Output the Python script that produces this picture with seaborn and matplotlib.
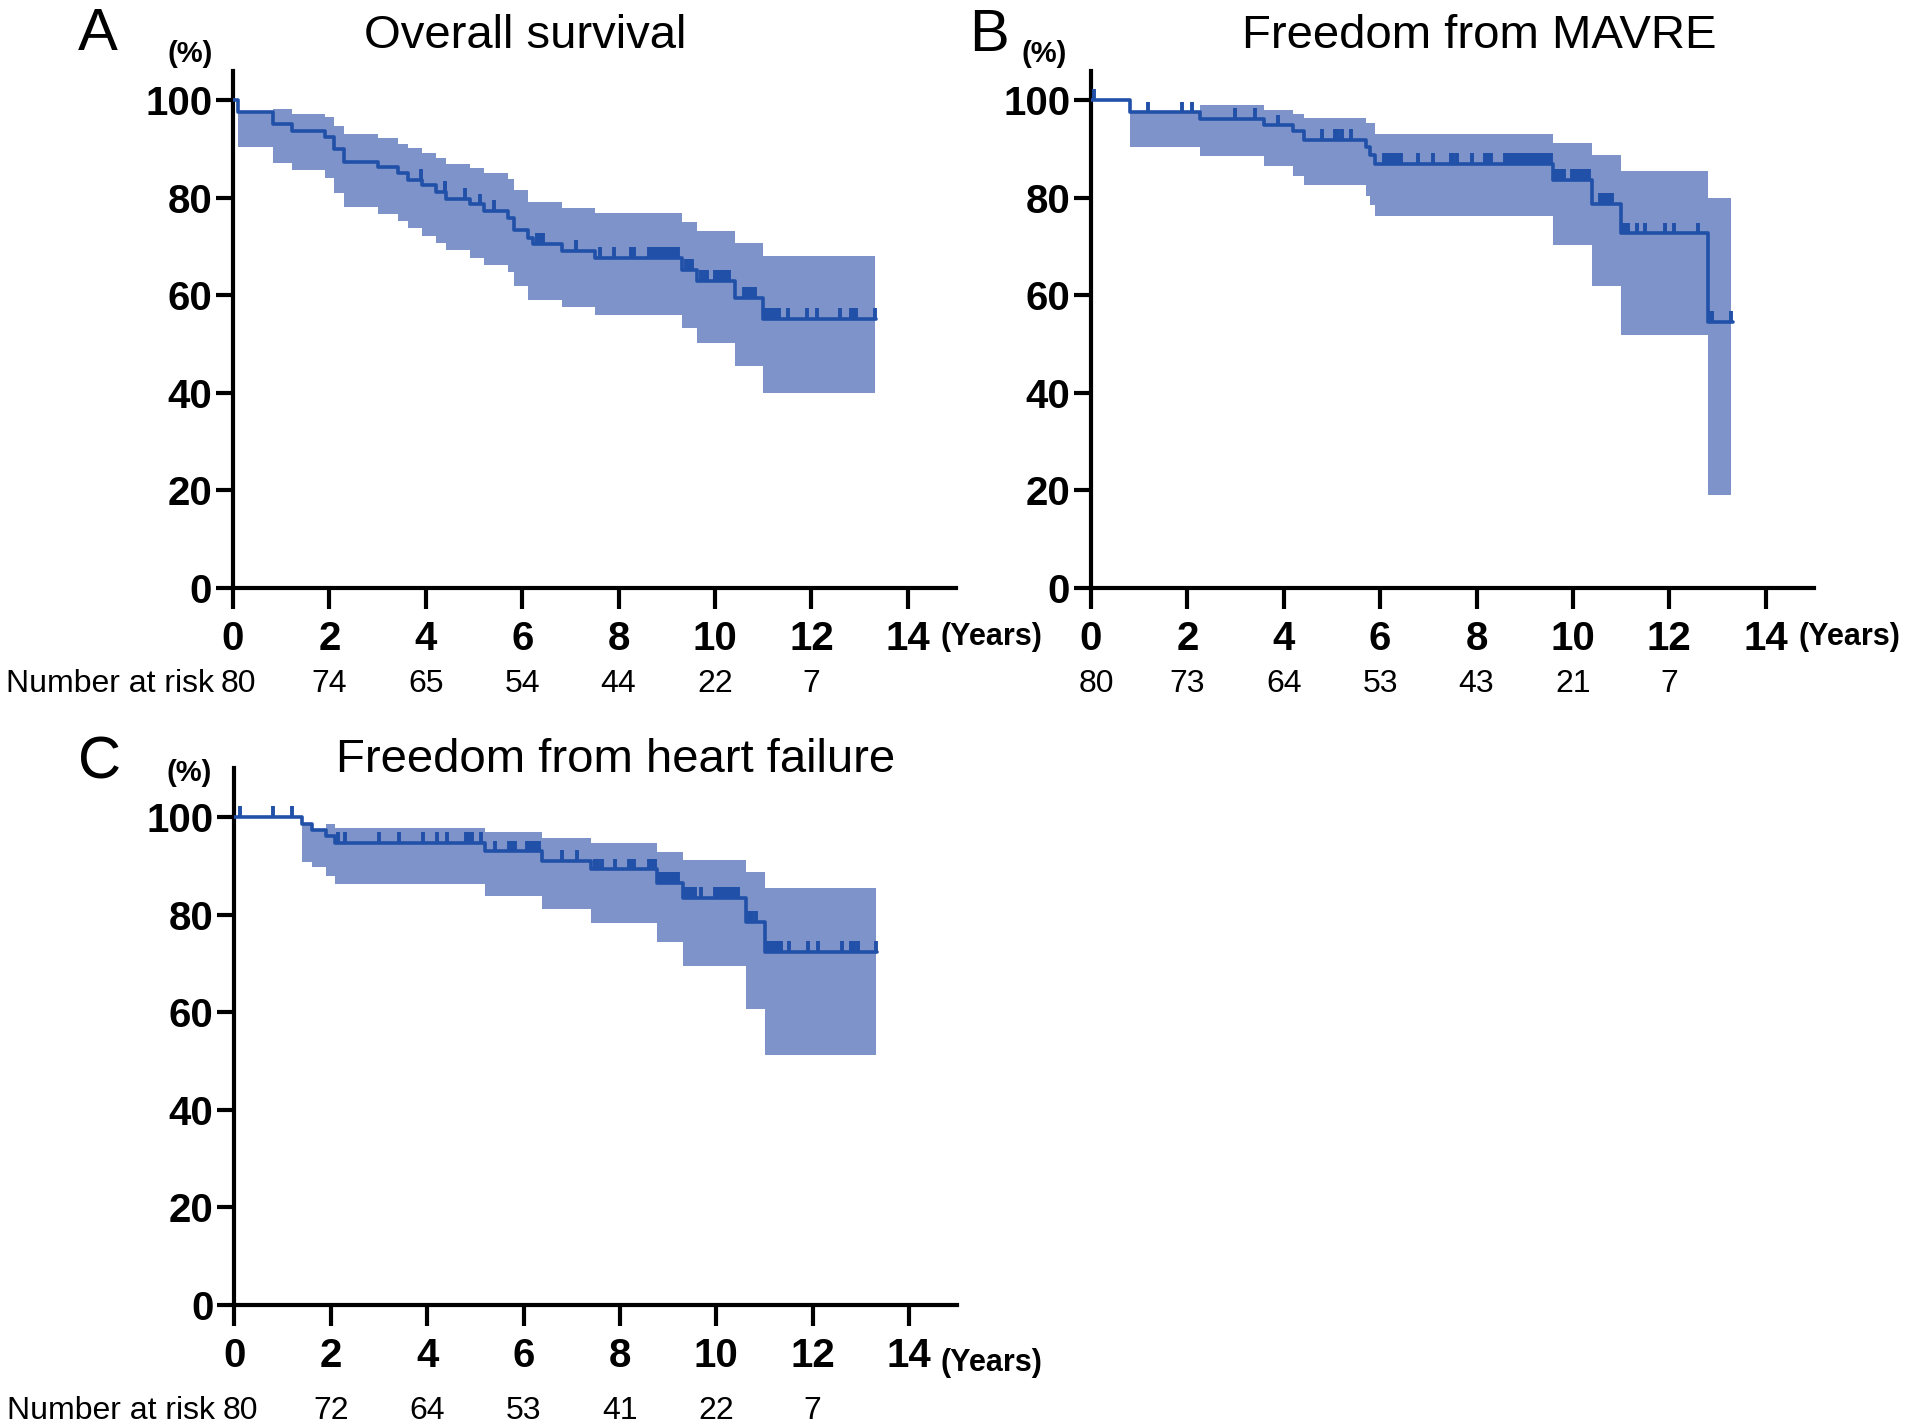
import numpy as np
import matplotlib
matplotlib.use("Agg")
import matplotlib.pyplot as plt
import seaborn as sns

# ---- A: overall survival ----
os_time = [0, 0.10, 0.82, 1.22, 1.91, 2.10, 2.30, 3.01, 3.42, 3.62, 3.92, 4.21, 4.41,
           4.91, 5.21, 5.71, 5.82, 6.13, 6.23, 6.82, 7.52, 9.31, 9.62, 10.41, 11.00]
os_surv = [100, 97.5, 95.0, 93.7, 92.5, 90.0, 87.4, 86.2, 85.0, 83.7, 82.6, 81.2, 79.8,
           78.6, 77.3, 75.8, 73.4, 71.8, 70.5, 69.1, 67.7, 65.2, 62.9, 59.4, 55.1]
os_end = 13.34
os_ci_time = [0.10, 0.82, 1.22, 1.91, 2.10, 2.30, 3.01, 3.42, 3.62, 3.92, 4.21, 4.41,
              4.91, 5.21, 5.71, 5.82, 6.13, 6.82, 7.52, 9.31, 9.62, 10.41, 11.00]
os_ci_upper = [97.6, 98.1, 97.2, 96.5, 94.7, 93.0, 92.2, 91.0, 90.1, 89.1, 88.2, 87.0,
               86.0, 85.0, 83.8, 81.6, 79.2, 77.9, 76.8, 75.1, 73.2, 70.8, 68.0]
os_ci_lower = [90.4, 87.2, 85.6, 84.1, 80.9, 78.0, 76.6, 75.2, 73.7, 72.2, 70.8, 69.2,
               67.7, 66.3, 64.8, 61.9, 59.0, 57.5, 56.0, 53.2, 50.3, 45.5, 39.9]
os_ci_end = 13.33
os_censor = [3.90, 4.39, 4.81, 5.12, 5.42, 6.31, 6.37, 6.43, 7.11, 7.61, 7.91, 8.25, 8.32,
             8.63, 8.69, 8.75, 8.81, 8.87, 8.93, 8.99, 9.05, 9.11, 9.17, 9.23,
             9.39, 9.46, 9.53, 9.70, 9.77, 9.84, 10.00, 10.06, 10.12, 10.18, 10.24, 10.30,
             10.60, 10.66, 10.72, 10.78, 10.84, 11.04, 11.10, 11.16, 11.22, 11.28, 11.33,
             11.52, 11.90, 12.11, 12.60, 12.82, 12.88, 12.93, 13.32]
os_at_risk = [80, 74, 65, 54, 44, 22, 7]

# ---- B: freedom from MAVRE ----
mavre_time = [0, 0.80, 2.26, 3.59, 4.20, 4.41, 5.71, 5.79, 5.90, 9.59, 10.40, 11.00, 12.81]
mavre_surv = [100, 97.5, 96.2, 94.8, 93.6, 91.9, 90.4, 88.8, 87.0, 83.6, 78.8, 72.7, 54.6]
mavre_end = 13.32
mavre_ci_time = [0.80, 2.26, 3.59, 4.20, 4.41, 5.71, 5.79, 5.90, 9.59, 10.40, 11.00, 12.81]
mavre_ci_upper = [97.5, 98.9, 98.0, 97.2, 96.3, 95.3, 95.3, 93.0, 91.3, 88.7, 85.5, 80.0]
mavre_ci_lower = [90.3, 88.5, 86.5, 84.4, 82.5, 80.3, 78.4, 76.2, 70.4, 61.8, 51.8, 19.1]
mavre_ci_end = 13.29
mavre_censor = [0.07, 1.19, 1.88, 2.09, 2.99, 3.40, 3.89, 4.80, 5.07, 5.13, 5.20, 5.39,
                6.08, 6.14, 6.20, 6.26, 6.32, 6.38, 6.43, 6.79, 7.10, 7.46, 7.52, 7.60, 7.90,
                8.18, 8.24, 8.30, 8.60, 8.66, 8.72, 8.78, 8.84, 8.90, 8.96, 9.02, 9.08, 9.14,
                9.20, 9.26, 9.32, 9.38, 9.44, 9.50, 9.55, 9.64, 9.70, 9.76, 9.82,
                9.98, 10.04, 10.10, 10.16, 10.22, 10.28, 10.34, 10.57, 10.63, 10.69, 10.75,
                10.82, 11.02, 11.08, 11.14, 11.32, 11.49, 11.91, 12.09, 12.60, 12.83, 12.89,
                13.29]
mavre_at_risk = [80, 73, 64, 53, 43, 21, 7]

# ---- C: freedom from heart failure ----
hf_time = [0, 1.40, 1.62, 1.91, 2.09, 5.19, 6.38, 7.40, 8.77, 9.30, 10.61, 11.01]
hf_surv = [100, 98.7, 97.4, 96.1, 94.8, 93.0, 91.1, 89.3, 86.5, 83.4, 78.6, 72.4]
hf_end = 13.33
hf_ci_time = [1.40, 1.62, 1.91, 2.09, 5.19, 6.38, 7.40, 8.77, 9.30, 10.61, 11.01]
hf_ci_upper = [98.7, 97.4, 98.6, 97.7, 96.9, 95.8, 94.7, 92.9, 91.2, 88.7, 85.4]
hf_ci_lower = [90.8, 89.7, 88.0, 86.3, 83.9, 81.2, 78.4, 74.5, 69.4, 60.7, 51.2]
hf_ci_end = 13.31
hf_censor = [0.11, 0.81, 1.20, 2.14, 2.30, 3.01, 3.41, 3.91, 4.21, 4.41, 4.80, 4.86, 4.93,
             5.11, 5.40, 5.69, 5.76, 5.83, 6.08, 6.14, 6.20, 6.26, 6.32, 6.80, 7.11,
             7.48, 7.55, 7.63, 7.90, 8.18, 8.24, 8.30, 8.60, 8.66, 8.72,
             8.79, 8.85, 8.91, 8.97, 9.03, 9.09, 9.15, 9.21, 9.38, 9.44, 9.50, 9.55, 9.69,
             9.98, 10.04, 10.10, 10.16, 10.22, 10.28, 10.34, 10.40, 10.44,
             10.63, 10.69, 10.75, 10.82, 11.05, 11.11, 11.17, 11.23, 11.29, 11.34,
             11.51, 11.90, 12.11, 12.60, 12.80, 12.86, 12.93, 13.31]
hf_at_risk = [80, 72, 64, 53, 41, 22, 7]

risk_years = [0, 2, 4, 6, 8, 10, 12]
x_ticks = [0, 2, 4, 6, 8, 10, 12, 14]
y_ticks = [0, 20, 40, 60, 80, 100]

BAND = "#7d93ca"
LINE = "#2050a8"
NARROW = ["Liberation Sans Narrow", "Liberation Sans", "DejaVu Sans"]

sns.set_style("ticks")
plt.rcParams["font.family"] = ["Liberation Sans", "DejaVu Sans"]
plt.rcParams.update({"text.color": "black", "axes.edgecolor": "black",
                     "xtick.color": "black", "ytick.color": "black",
                     "axes.labelcolor": "black"})


def draw_km(ax, time, surv, end, ci_time, upper, lower, ci_end, censor, ytop):
    ax.fill_between(np.r_[ci_time, ci_end], np.r_[upper, upper[-1]],
                    np.r_[lower, lower[-1]], step="post", color=BAND, lw=0, zorder=1)
    sns.lineplot(x=np.r_[time, end], y=np.r_[surv, surv[-1]], drawstyle="steps-post",
                 color=LINE, lw=2.6, estimator=None, ax=ax, zorder=3)
    # censoring ticks sit on top of the curve
    idx = np.searchsorted(time, censor, side="right") - 1
    level = np.asarray(surv)[idx]
    ax.vlines(censor, level, level + 2.2, color=LINE, lw=2.8, zorder=3)

    ax.set_xlim(0, 15)
    ax.set_ylim(0, ytop)
    ax.set_xticks(x_ticks)
    ax.set_yticks(y_ticks)
    ax.set_xlabel("")
    ax.set_ylabel("")
    sns.despine(ax=ax)
    for sp in ["left", "bottom"]:
        ax.spines[sp].set_linewidth(3)
        ax.spines[sp].set_color("black")
    ax.tick_params(axis="x", length=15, width=3, pad=8, colors="black")
    ax.tick_params(axis="y", length=12, width=3, pad=3, colors="black")
    for lab in ax.get_xticklabels() + ax.get_yticklabels():
        lab.set_family(NARROW)
        lab.set_fontweight("bold")
        lab.set_fontsize(29)


def at_risk_row(ax, counts, label, dy):
    for i, (yr, n) in enumerate(zip(risk_years, counts)):
        ax.annotate(str(n), xy=(yr, 0), xycoords=("data", "axes fraction"),
                    xytext=(4 if i == 0 else 0, dy), textcoords="offset points",
                    ha="center", va="center", fontsize=23)
    if label:
        ax.annotate("Number at risk", xy=(0, 0), xycoords=("data", "axes fraction"),
                    xytext=(-14, dy), textcoords="offset points",
                    ha="right", va="center", fontsize=23)


fig = plt.figure(figsize=(19.15, 14.27), dpi=100)
ax_a = fig.add_axes([0.1217, 0.5879, 0.3775, 0.3625])
ax_b = fig.add_axes([0.5697, 0.5879, 0.3775, 0.3625])
ax_c = fig.add_axes([0.1224, 0.0855, 0.3775, 0.3760])

draw_km(ax_a, os_time, os_surv, os_end, os_ci_time, os_ci_upper, os_ci_lower,
        os_ci_end, os_censor, 106)
draw_km(ax_b, mavre_time, mavre_surv, mavre_end, mavre_ci_time, mavre_ci_upper,
        mavre_ci_lower, mavre_ci_end, mavre_censor, 106)
draw_km(ax_c, hf_time, hf_surv, hf_end, hf_ci_time, hf_ci_upper, hf_ci_lower,
        hf_ci_end, hf_censor, 110)

at_risk_row(ax_a, os_at_risk, True, -69)
at_risk_row(ax_b, mavre_at_risk, False, -69)
at_risk_row(ax_c, hf_at_risk, True, -76)

# panel letters, titles, axis unit labels
for x, y, s in [(0.0512, 0.9757, "A"), (0.5165, 0.9748, "B"), (0.0522, 0.4656, "C")]:
    fig.text(x, y, s, fontsize=43, ha="center", va="center")
for x, y, s in [(0.2740, 0.9750, "Overall survival"),
                (0.7726, 0.9750, "Freedom from MAVRE"),
                (0.3217, 0.4674, "Freedom from heart failure")]:
    fig.text(x, y, s, fontsize=34, ha="center", va="center")
for x, y in [(0.0992, 0.9624), (0.5454, 0.9624), (0.0987, 0.4583)]:
    fig.text(x, y, "(%)", fontsize=21, fontweight="bold", family=NARROW,
             ha="center", va="center")
for x, y in [(0.5175, 0.5536), (0.9660, 0.5536), (0.5175, 0.0450)]:
    fig.text(x, y, "(Years)", fontsize=22, fontweight="bold", family=NARROW,
             ha="center", va="center")

fig.savefig("out.png", dpi=100, facecolor="white")
